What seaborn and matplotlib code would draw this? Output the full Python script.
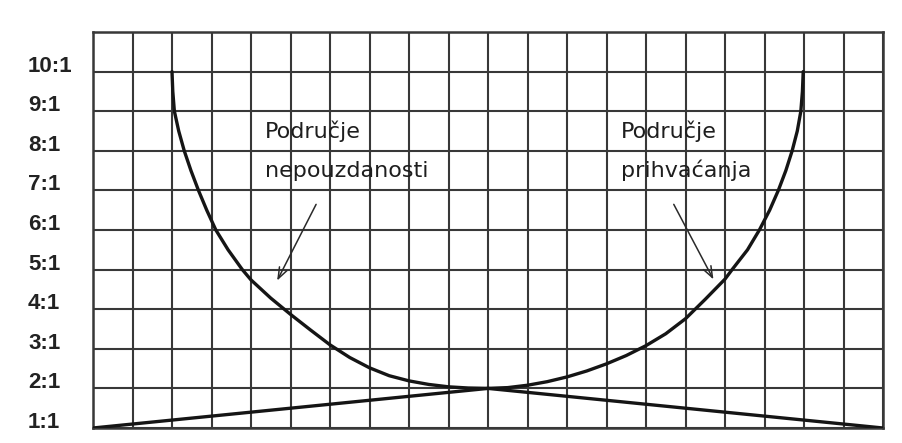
import matplotlib
matplotlib.use("Agg")
import matplotlib.pyplot as plt
import matplotlib.transforms as mtransforms
import seaborn as sns
import pandas as pd

# ---- data ----
y_tick_values = [1, 2, 3, 4, 5, 6, 7, 8, 9, 10]
y_tick_labels = ["1:1", "2:1", "3:1", "4:1", "5:1", "6:1", "7:1", "8:1", "9:1", "10:1"]

# "Područje nepouzdanosti" curve (left)
left_curve_x = [2.0, 2.02, 2.06, 2.17, 2.31, 2.48, 2.67, 2.88, 3.11, 3.42, 3.78,
                4.0, 4.5, 5.0, 5.5, 6.0, 6.5, 7.0, 7.5, 8.0, 8.5, 9.0, 9.5, 10.0]
left_curve_y = [10.0, 9.5, 9.0, 8.5, 8.0, 7.5, 7.0, 6.5, 6.0, 5.5, 5.0,
                4.74, 4.28, 3.87, 3.48, 3.10, 2.78, 2.52, 2.32, 2.19, 2.10, 2.04, 2.01, 2.0]

# "Područje prihvaćanja" curve (right)
right_curve_x = [10.0, 10.5, 11.0, 11.5, 12.0, 12.5, 13.0, 13.5, 14.0, 14.5, 15.0, 15.5,
                 16.0, 16.18, 16.57, 16.87, 17.13, 17.35, 17.54, 17.70, 17.83, 17.92, 17.96, 17.98]
right_curve_y = [2.0, 2.02, 2.08, 2.17, 2.29, 2.44, 2.62, 2.83, 3.08, 3.38, 3.76, 4.25,
                 4.76, 5.0, 5.5, 6.0, 6.5, 7.0, 7.5, 8.0, 8.5, 9.0, 9.5, 10.0]

# straight lines
left_line_x = [0.0, 10.0]
left_line_y = [1.0, 2.0]
right_line_x = [10.0, 20.0]
right_line_y = [2.0, 1.0]

labels_left = ["Područje", "nepouzdanosti"]
labels_right = ["Područje", "prihvaćanja"]

# ---- figure ----
sns.set_style("white")
plt.rcParams["font.family"] = ["DejaVu Sans"]

fig = plt.figure(figsize=(9.03, 4.43), dpi=100)
ax = fig.add_axes([93 / 903, 1 - 428 / 443, 790 / 903, 396 / 443])

line_color = "#151515"
grid_color = "#383838"

def draw(xs, ys):
    df = pd.DataFrame({"x": xs, "y": ys})
    sns.lineplot(data=df, x="x", y="y", sort=False, estimator=None,
                 color=line_color, linewidth=2.4, ax=ax, zorder=5)
    ax.lines[-1].set_solid_joinstyle("round")
    ax.lines[-1].set_solid_capstyle("round")

draw(left_curve_x, left_curve_y)
draw(right_curve_x, right_curve_y)
draw(left_line_x, left_line_y)
draw(right_line_x, right_line_y)

ax.set_xlim(0, 20)
ax.set_ylim(1, 11)
ax.set_xticks(range(0, 21))
ax.set_yticks(range(1, 12))
ax.set_yticklabels(y_tick_labels + [""])
ax.set_xticklabels([])
ax.grid(True, color=grid_color, linewidth=1.5)
ax.set_axisbelow(True)
ax.set_xlabel("")
ax.set_ylabel("")
for s in ax.spines.values():
    s.set_visible(True)
    s.set_color(grid_color)
    s.set_linewidth(1.8)

ax.tick_params(axis="x", length=0)
ax.tick_params(axis="y", length=0, pad=46.8)
offset = mtransforms.ScaledTranslation(0, 0.08, fig.dpi_scale_trans)
for lab in ax.get_yticklabels():
    lab.set_horizontalalignment("left")
    lab.set_fontfamily("Liberation Sans")
    lab.set_fontweight("bold")
    lab.set_fontsize(16)
    lab.set_color("#222222")
    lab.set_transform(lab.get_transform() + offset)

# annotations
text_kw = dict(fontsize=16, color="#1e1e1e", va="baseline", ha="left", zorder=6)
ax.text(4.35, 8.32, labels_left[0], **text_kw)
ax.text(4.35, 7.34, labels_left[1], **text_kw)
ax.text(13.36, 8.32, labels_right[0], **text_kw)
ax.text(13.36, 7.34, labels_right[1], **text_kw)

arrow_kw = dict(arrowstyle="->,head_length=0.8,head_width=0.3", color="#2a2a2a", lw=1.1)
ax.annotate("", xy=(4.63, 4.66), xytext=(5.68, 6.71), arrowprops=arrow_kw, zorder=6)
ax.annotate("", xy=(15.74, 4.69), xytext=(14.67, 6.71), arrowprops=arrow_kw, zorder=6)

fig.savefig("out.png", dpi=100)
